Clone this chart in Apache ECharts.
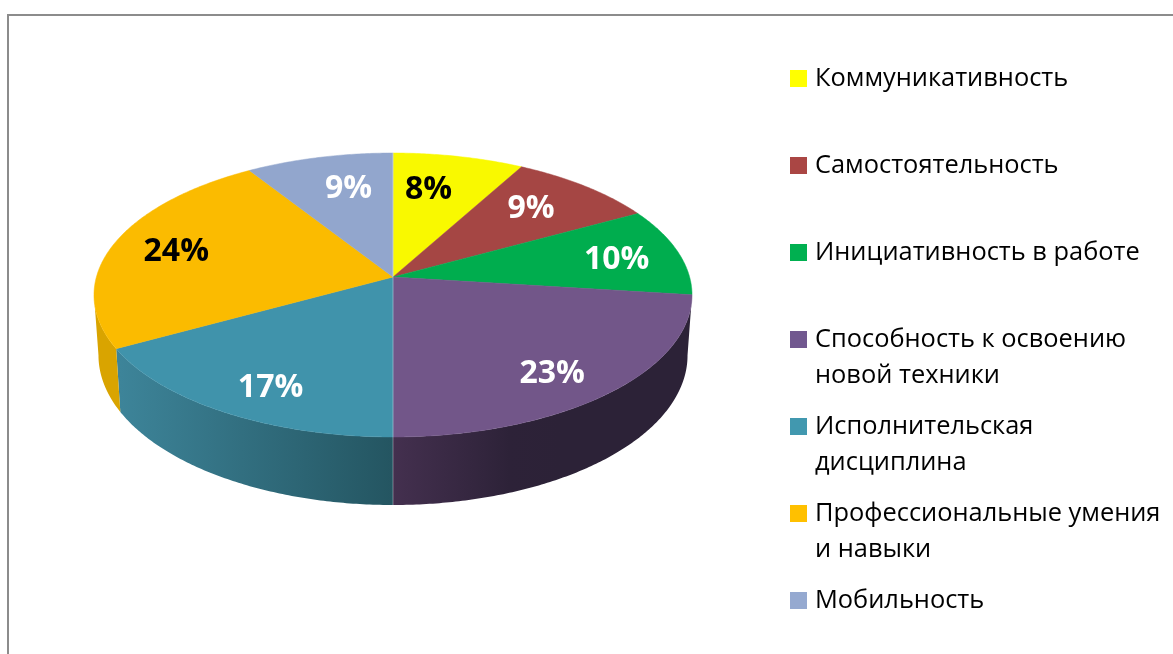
<!DOCTYPE html>
<html>
<head>
<meta charset="utf-8">
<style>
  html, body { margin: 0; padding: 0; background: #fff; }
  #chart { width: 1173px; height: 654px; }
</style>
<script src="https://cdn.jsdelivr.net/npm/echarts@6/dist/echarts.min.js"></script>
</head>
<body>
<div id="chart"></div>
<script>
const categories = [
  'Коммуникативность',
  'Самостоятельность',
  'Инициативность в работе',
  'Способность к освоению\nновой техники',
  'Исполнительская\nдисциплина',
  'Профессиональные умения\nи навыки',
  'Мобильность'
]
const values = [8, 9, 10, 23, 17, 24, 9]

const legendColors = ['#ffff00', '#aa4644', '#00b050', '#71588f', '#4198af', '#ffc000', '#95a9d0']
const topColors = ['#f9f900', '#a54644', '#00ad4e', '#725689', '#4093ab', '#fbbb00', '#92a6cd']
const labelColors = ['#000', '#fff', '#fff', '#fff', '#fff', '#000', '#fff']
// nudge of each label from the slice's mid point, in pixels
const labelNudge = [[-12, 0], [0, -3], [23, 1], [12, 18], [-8, 20], [-20, -1], [9, -2]]
// centre of the legend's first line, in pixels
const legendY = [77.5, 164.5, 251.5, 338.5, 425.5, 512.5, 599.5]

// perspective ellipse, fitted to the picture
const cx = 393, cy = 277, R = 296.6, A = 139.7, P = 0.1268
const depth = 59.4, shrink = 0.985
const lineH = 36

function project(angle, r, lower) {
  const u = r * Math.sin(angle), v = -r * Math.cos(angle)
  const d = 1 - P * v
  const k = lower ? shrink : 1
  return [cx + R * u / d * k, cy + (A * v + (lower ? depth : 0)) / d]
}

function rim(a0, a1, lower) {
  const n = Math.max(2, Math.ceil((a1 - a0) / 0.01))
  const pts = []
  for (let i = 0; i <= n; i++) {
    pts.push(project(a0 + (a1 - a0) * i / n, 1, lower))
  }
  return pts
}

const total = values.reduce((a, b) => a + b, 0)
const wallFrom = Math.acos(-P), wallTo = 2 * Math.PI - wallFrom

function wallFill(i) {
  if (i === 3) {
    return {
      type: 'linear', x: 393, y: 0, x2: 560, y2: 0, global: true,
      colorStops: [
        { offset: 0, color: '#44304f' },
        { offset: 0.7, color: '#2d2238' },
        { offset: 1, color: '#2c2237' }
      ]
    }
  }
  if (i === 4) {
    return {
      type: 'linear', x: 120, y: 0, x2: 393, y2: 0, global: true,
      colorStops: [
        { offset: 0, color: '#3d8499' },
        { offset: 1, color: '#245561' }
      ]
    }
  }
  return '#d9a400'
}

let running = 0
const series = categories.map((name, i) => {
  const start = running / total * 2 * Math.PI
  running += values[i]
  const end = running / total * 2 * Math.PI

  return {
    type: 'custom',
    name: name,
    coordinateSystem: 'none',
    color: legendColors[i],
    itemStyle: { color: legendColors[i] },
    data: [[values[i]]],
    renderItem: (params, api) => {
      const children = []
      const a0 = Math.max(start, wallFrom), a1 = Math.min(end, wallTo)
      if (a1 > a0) {
        children.push({
          type: 'polygon',
          shape: { points: rim(a0, a1, false).concat(rim(a0, a1, true).reverse()) },
          style: { fill: wallFill(i) }
        })
      }
      children.push({
        type: 'polygon',
        shape: { points: [[cx, cy]].concat(rim(start, end, false)) },
        style: { fill: topColors[i], stroke: topColors[i], lineWidth: 0.5 }
      })
      const mid = (start + end) / 2
      const c = project(mid, 0.7, false)
      children.push({
        type: 'text',
        style: {
          x: c[0] + labelNudge[i][0],
          y: c[1] + labelNudge[i][1],
          text: api.value(0) + '%',
          align: 'center',
          verticalAlign: 'middle',
          fill: labelColors[i],
          font: 'bold 32px "Open Sans", sans-serif'
        },
        z2: 10
      })
      return { type: 'group', children: children }
    }
  }
})

// thin light seam down the middle of the pie
const seam = {
  type: 'custom',
  coordinateSystem: 'none',
  silent: true,
  z: 3,
  data: [[0]],
  renderItem: () => ({
    type: 'group',
    children: [
      { type: 'line', shape: { x1: cx, y1: project(0, 1)[1], x2: cx, y2: cy }, style: { stroke: 'rgba(255,255,255,0.4)', lineWidth: 1 } },
      { type: 'line', shape: { x1: cx, y1: cy, x2: cx, y2: project(Math.PI, 1, true)[1] }, style: { stroke: 'rgba(255,255,255,0.35)', lineWidth: 1 } }
    ]
  })
}

const legends = categories.map((name, i) => {
  const two = name.indexOf('\n') >= 0
  const boxH = two ? lineH * 3 : lineH
  return {
    left: 790,
    top: legendY[i] - boxH / 2,
    padding: 0,
    orient: 'vertical',
    icon: 'rect',
    itemWidth: 17,
    itemHeight: 17,
    selectedMode: false,
    data: [name],
    // a blank first line keeps the icon level with the first line of a two-line name
    formatter: n => (n.indexOf('\n') >= 0 ? '\n' + n : n),
    textStyle: {
      color: '#000',
      fontFamily: '"Open Sans", sans-serif',
      fontSize: 25.4,
      lineHeight: lineH,
      padding: [2, 0, 0, 3]
    }
  }
})

const myChart = echarts.init(document.getElementById('chart'))
myChart.setOption({
  animation: false,
  backgroundColor: '#fff',
  legend: legends,
  graphic: [{
    type: 'polyline',
    silent: true,
    shape: { points: [[8, 654], [8, 15], [1173, 15]] },
    style: { stroke: '#8c8c8c', lineWidth: 2, fill: null }
  }],
  series: series.concat([seam])
})
</script>
</body>
</html>
